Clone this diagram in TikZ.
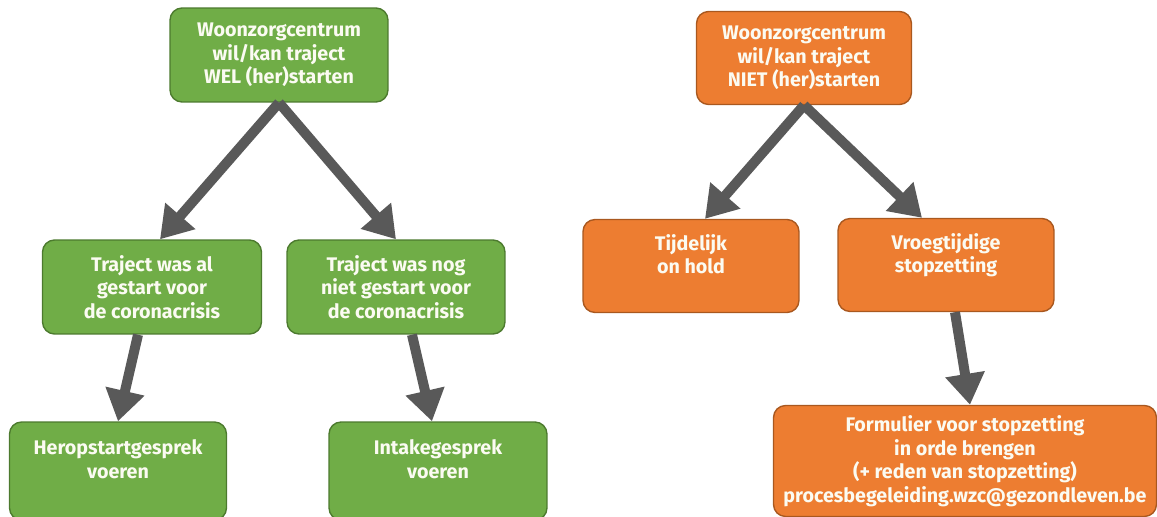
\documentclass[tikz,border=0pt]{standalone}
\usepackage{fontspec}
\setmainfont{Fira Sans}
\usepackage{xcolor}
\usepackage{tikz}
\usetikzlibrary{arrows.meta}
\definecolor{wzcgreen}{HTML}{70AD47}
\definecolor{wzcgreenline}{HTML}{4C7A2E}
\definecolor{wzcorange}{HTML}{ED7D31}
\definecolor{wzcorangeline}{HTML}{A9581F}
\definecolor{wzcgray}{HTML}{595959}
\definecolor{wzctext}{HTML}{FBFBF2}
\tikzset{
    box_node/.style = {align=center, inner sep=0pt, text centered, rectangle, rounded corners=0.24cm, line width=0.8pt, text=wzctext, font=\fontsize{11.2}{13.4}\selectfont\bfseries},
    green_node/.style = {box_node, draw=wzcgreenline, fill=wzcgreen},
    orange_node/.style = {box_node, draw=wzcorangeline, fill=wzcorange},
    big_arrow/.style = {draw=wzcgray, line width=0.2cm, -{Triangle[length=0.62cm,width=0.76cm]}}
}

\begin{document}
\begin{tikzpicture}[x=0.02cm, y=-0.02cm]
    \useasboundingbox (0,0) rectangle (1157,517);
    % groene kant
    \node [green_node, minimum width=4.36cm, minimum height=1.88cm] (wel) at (279,55) {Woonzorgcentrum\\wil/kan traject\\WEL (her)starten};
    \node [green_node, minimum width=4.38cm, minimum height=1.88cm] (alGestart) at (152,287) {Traject was al\\gestart voor\\de coronacrisis};
    \node [green_node, minimum width=4.36cm, minimum height=1.88cm] (nogNiet) at (396,287) {Traject was nog\\niet gestart voor\\de coronacrisis};
    \node [green_node, minimum width=4.34cm, minimum height=1.96cm] (heropstart) at (118,471) {Heropstartgesprek\\voeren\\~};
    \node [green_node, minimum width=4.36cm, minimum height=1.96cm] (intake) at (438,471) {Intakegesprek\\voeren\\~};
    % oranje kant
    \node [orange_node, minimum width=4.30cm, minimum height=1.86cm] (niet) at (804,58) {Woonzorgcentrum\\wil/kan traject\\NIET (her)starten};
    \node [orange_node, minimum width=4.32cm, minimum height=1.86cm] (onHold) at (691,266) {Tijdelijk\\on hold\\~};
    \node [orange_node, minimum width=4.32cm, minimum height=1.86cm] (stopzet) at (946,265) {Vroegtijdige\\stopzetting\\~};
    \node [orange_node, minimum width=7.66cm, minimum height=2.22cm] (formulier) at (965,461) {Formulier voor stopzetting\\in orde brengen\\(+ reden van stopzetting)\\procesbegeleiding.wzc@gezondleven.be};
    % pijlen
    \draw [big_arrow] (wel.south) -- ([xshift=0.16cm]alGestart.north);
    \draw [big_arrow] (wel.south) -- (nogNiet.north);
    \draw [big_arrow] ([xshift=-0.28cm]alGestart.south) -- (heropstart.north);
    \draw [big_arrow] ([xshift=0.32cm]nogNiet.south) -- ([xshift=-0.12cm]intake.north);
    \draw [big_arrow] (niet.south) -- ([xshift=0.28cm]onHold.north);
    \draw [big_arrow] (niet.south) -- ([xshift=-0.48cm]stopzet.north);
    \draw [big_arrow] ([xshift=0.18cm]stopzet.south) -- ([xshift=0.1cm]formulier.north);
\end{tikzpicture}
\end{document}
